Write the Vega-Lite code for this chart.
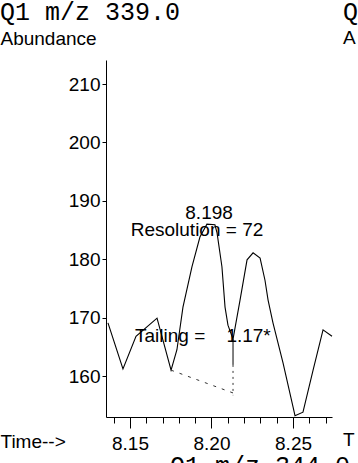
{
  "$schema": "https://vega.github.io/schema/vega-lite/v6.json",
  "width": 226,
  "height": 357,
  "autosize": {"type": "none"},
  "padding": {"left": 106, "top": 60, "right": 26, "bottom": 46},
  "background": "white",
  "title": {
    "text": "Q1 m/z 339.0",
    "font": "Liberation Mono",
    "fontSize": 25,
    "fontWeight": "normal",
    "color": "black",
    "anchor": "start",
    "frame": "group",
    "dx": -106,
    "offset": -37,
    "baseline": "middle"
  },
  "config": {
    "view": {"stroke": null},
    "text": {"font": "Liberation Sans", "fontSize": 19, "color": "black"}
  },
  "encoding": {
    "x": {
      "field": "t",
      "type": "quantitative",
      "scale": {"domain": [8.1353, 8.2739], "zero": false, "nice": false},
      "axis": {
        "title": "Time-->",
        "titleX": -106,
        "titleY": 24,
        "titleAlign": "left",
        "titleBaseline": "middle",
        "titleAnchor": "start",
        "titleFont": "Liberation Sans",
        "titleFontSize": 19,
        "titleFontWeight": "normal",
        "titleColor": "black",
        "values": [8.14, 8.15, 8.16, 8.17, 8.18, 8.19, 8.2, 8.21, 8.22, 8.23, 8.24, 8.25, 8.26, 8.27],
        "format": ".2f",
        "labelExpr": "round(datum.value*100) % 5 === 0 ? datum.label : ''",
        "tickSize": {"condition": {"test": "round(datum.value*100) % 5 === 0", "value": 11}, "value": 6},
        "tickColor": "black",
        "tickWidth": 1,
        "domainColor": "black",
        "domainWidth": 1,
        "grid": false,
        "labelFont": "Liberation Sans",
        "labelFontSize": 19,
        "labelColor": "black",
        "labelPadding": 6,
        "labelFlush": false,
        "labelOverlap": false
      }
    },
    "y": {
      "field": "v",
      "type": "quantitative",
      "scale": {"domain": [152.98, 214.11], "zero": false, "nice": false},
      "axis": {
        "title": "Abundance",
        "titleAngle": 0,
        "titleX": -106,
        "titleY": -22,
        "titleAlign": "left",
        "titleBaseline": "middle",
        "titleAnchor": "start",
        "titleFont": "Liberation Sans",
        "titleFontSize": 19,
        "titleFontWeight": "normal",
        "titleColor": "black",
        "values": [160, 170, 180, 190, 200, 210],
        "tickSize": 4,
        "tickColor": "black",
        "domainColor": "black",
        "domainWidth": 1,
        "grid": false,
        "labelFont": "Liberation Sans",
        "labelFontSize": 19,
        "labelColor": "black",
        "labelPadding": 2
      }
    }
  },
  "layer": [
    {
      "data": {"values": [
        {"t": 8.1365, "v": 169.1},
        {"t": 8.1457, "v": 161.2},
        {"t": 8.1537, "v": 166.8},
        {"t": 8.1666, "v": 169.9},
        {"t": 8.1752, "v": 161.0},
        {"t": 8.1788, "v": 164.5},
        {"t": 8.1825, "v": 171.8},
        {"t": 8.1880, "v": 178.7},
        {"t": 8.1929, "v": 183.8},
        {"t": 8.1972, "v": 186.0},
        {"t": 8.2021, "v": 185.9},
        {"t": 8.2034, "v": 184.5},
        {"t": 8.2064, "v": 178.7},
        {"t": 8.2083, "v": 171.8},
        {"t": 8.2101, "v": 168.7},
        {"t": 8.2132, "v": 166.3},
        {"t": 8.2175, "v": 173.0},
        {"t": 8.2218, "v": 179.9},
        {"t": 8.2255, "v": 181.1},
        {"t": 8.2298, "v": 180.2},
        {"t": 8.2328, "v": 176.4},
        {"t": 8.2347, "v": 173.0},
        {"t": 8.2377, "v": 169.1},
        {"t": 8.2439, "v": 162.2},
        {"t": 8.2500, "v": 154.7},
        {"t": 8.2512, "v": 153.2},
        {"t": 8.2561, "v": 153.8},
        {"t": 8.2623, "v": 161.0},
        {"t": 8.2684, "v": 167.9},
        {"t": 8.2739, "v": 166.8}
      ]},
      "mark": {"type": "line", "color": "black", "strokeWidth": 1.1, "clip": false}
    },
    {
      "data": {"values": [{"t": 8.1752, "v": 161.0, "t2": 8.2132, "v2": 157.1}]},
      "mark": {"type": "rule", "color": "#333", "strokeWidth": 1, "strokeDash": [3, 6]},
      "encoding": {"x2": {"field": "t2"}, "y2": {"field": "v2"}}
    },
    {
      "data": {"values": [{"t": 8.2132, "v": 166.3, "v2": 161.9}]},
      "mark": {"type": "rule", "color": "black", "strokeWidth": 1},
      "encoding": {"y2": {"field": "v2"}}
    },
    {
      "data": {"values": [{"t": 8.2132, "v": 161.9, "v2": 156.7}]},
      "mark": {"type": "rule", "color": "#333", "strokeWidth": 1, "strokeDash": [2, 4]},
      "encoding": {"y2": {"field": "v2"}}
    },
    {
      "data": {"values": [
        {"t": 8.1985, "v": 187.9, "label": "8.198"},
        {"t": 8.1911, "v": 185.0, "label": "Resolution = 72"}
      ]},
      "mark": {"type": "text", "align": "center", "baseline": "middle"},
      "encoding": {"text": {"field": "label"}}
    },
    {
      "data": {"values": [
        {"t": 8.1531, "v": 166.8, "label": "Tailing = \u00a0\u00a0 1.17*"},
        {"t": 8.2807, "v": 217.9, "label": "A"},
        {"t": 8.2807, "v": 149.0, "label": "T"}
      ]},
      "mark": {"type": "text", "align": "left", "baseline": "middle"},
      "encoding": {"text": {"field": "label"}}
    },
    {
      "data": {"values": [
        {"t": 8.2807, "v": 222.3, "label": "Q"},
        {"t": 8.1745, "v": 144.6, "label": "Q1 m/z 344.0"}
      ]},
      "mark": {"type": "text", "align": "left", "baseline": "middle", "font": "Liberation Mono", "fontSize": 25},
      "encoding": {"text": {"field": "label"}}
    }
  ]
}
